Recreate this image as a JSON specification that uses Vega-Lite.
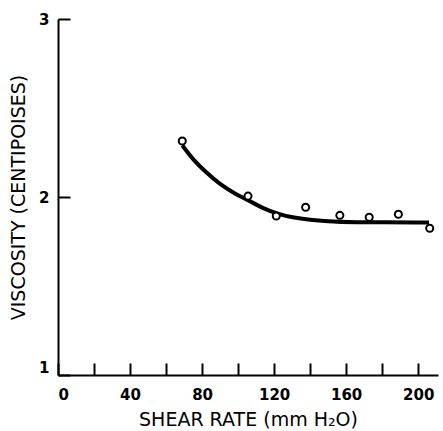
{
  "$schema": "https://vega.github.io/schema/vega-lite/v6.json",
  "width": 380,
  "height": 356,
  "autosize": {"type": "none"},
  "padding": {"left": 58, "top": 19, "right": 5, "bottom": 56},
  "background": "white",
  "config": {
    "view": {"stroke": null},
    "axis": {
      "grid": false,
      "domainColor": "black",
      "domainWidth": 2,
      "tickColor": "black",
      "labelColor": "black",
      "titleColor": "black",
      "labelFont": "DejaVu Sans",
      "titleFont": "DejaVu Sans",
      "labelFontWeight": "bold",
      "titleFontWeight": "normal"
    }
  },
  "datasets": {
    "points": [
      {"rate": 69, "viscosity": 2.315},
      {"rate": 105.5, "viscosity": 2.005},
      {"rate": 121.2, "viscosity": 1.893},
      {"rate": 137.5, "viscosity": 1.942},
      {"rate": 156.5, "viscosity": 1.897},
      {"rate": 172.8, "viscosity": 1.886},
      {"rate": 189, "viscosity": 1.903},
      {"rate": 206.4, "viscosity": 1.824}
    ],
    "curve": [
      {"rate": 69, "viscosity": 2.29},
      {"rate": 75, "viscosity": 2.21},
      {"rate": 82, "viscosity": 2.14},
      {"rate": 90, "viscosity": 2.07},
      {"rate": 98, "viscosity": 2.02},
      {"rate": 106, "viscosity": 1.98},
      {"rate": 114, "viscosity": 1.935},
      {"rate": 122, "viscosity": 1.905},
      {"rate": 130, "viscosity": 1.885},
      {"rate": 140, "viscosity": 1.872},
      {"rate": 150, "viscosity": 1.864},
      {"rate": 160, "viscosity": 1.858},
      {"rate": 206, "viscosity": 1.857}
    ]
  },
  "encoding": {
    "x": {
      "field": "rate", "type": "quantitative",
      "scale": {"domain": [0, 211], "nice": false, "zero": false},
      "axis": {
        "title": "SHEAR RATE (mm H₂O)",
        "values": [0, 20, 40, 60, 80, 100, 120, 140, 160, 180, 200],
        "tickCount": 30,
        "labelExpr": "datum.value % 40 === 0 ? datum.label : ''",
        "labelOverlap": false,
        "ticks": true,
        "tickSize": -12,
        "tickWidth": 2,
        "labelFontSize": 15,
        "labelPadding": 24,
        "labelBaseline": "top",
        "titleFontSize": 19,
        "titlePadding": 8
      }
    },
    "y": {
      "field": "viscosity", "type": "quantitative",
      "scale": {"domain": [1, 3], "nice": false, "zero": false},
      "axis": {
        "title": "VISCOSITY (CENTIPOISES)",
        "values": [1, 2, 3],
        "tickCount": 30,
        "labelExpr": "format(datum.value, 'd')",
        "labelOverlap": false,
        "ticks": true,
        "tickSize": -12,
        "tickWidth": 2,
        "labelFontSize": 15,
        "labelPadding": 21,
        "labelBaseline": {"condition": {"test": "datum.value === 1", "value": "bottom"}, "value": "middle"},
        "titleFontSize": 19,
        "titlePadding": 10
      }
    }
  },
  "layer": [
    {
      "data": {"name": "curve"},
      "mark": {"type": "line", "color": "black", "strokeWidth": 4, "interpolate": "basis"}
    },
    {
      "data": {"name": "points"},
      "mark": {"type": "point", "shape": "circle", "filled": false, "fill": "white", "fillOpacity": 1, "stroke": "black", "strokeWidth": 2, "opacity": 1, "size": 50}
    }
  ]
}
